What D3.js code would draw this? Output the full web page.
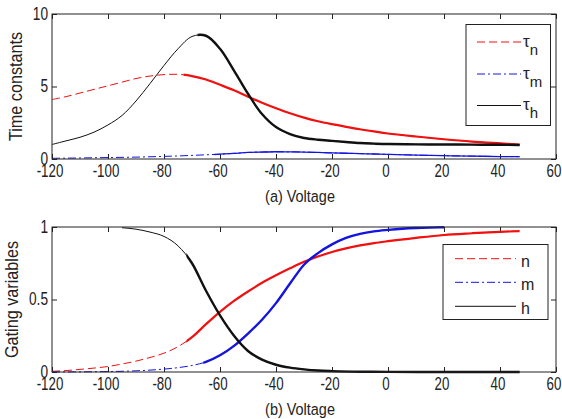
<!DOCTYPE html>
<html>
<head>
<meta charset="utf-8">
<script src="https://cdn.jsdelivr.net/npm/d3@7"></script>
<style>
  html, body { margin: 0; padding: 0; background: #fff; }
  svg { display: block; }
  text { font-family: "Liberation Sans", Arial, Helvetica, sans-serif; fill: #222; }
</style>
</head>
<body>
<svg id="chart" width="562" height="419"></svg>
<script>
// Voltage sample points (mV) for the time-constant curves and n
const tauVolt = [-120,-115,-110,-105,-100,-95,-90,-85,-80,-75,-70,-65,-60,-55,-50,-45,-40,-35,-30,-25,-20,-15,-10,-5,0,10,20,30,40,47];
// Time constants (ms)
const tauN = [4.1,4.3,4.55,4.8,5.05,5.3,5.55,5.72,5.82,5.84,5.72,5.48,5.12,4.74,4.3,3.88,3.5,3.15,2.85,2.6,2.4,2.22,2.05,1.9,1.76,1.55,1.36,1.2,1.08,1.0];
const tauM = [0.05,0.06,0.07,0.085,0.1,0.115,0.13,0.155,0.18,0.21,0.25,0.29,0.33,0.39,0.45,0.48,0.5,0.49,0.48,0.45,0.42,0.395,0.37,0.345,0.32,0.27,0.23,0.2,0.17,0.16];
const tauH = [1.0,1.25,1.5,1.85,2.35,3.0,4.0,5.2,6.45,7.6,8.45,8.5,7.6,6.1,4.5,3.1,2.2,1.72,1.45,1.33,1.25,1.17,1.1,1.06,1.03,1.01,1.0,0.99,0.98,0.97];

// Steady-state gating variables
const gateN = [0.005,0.01,0.018,0.027,0.038,0.055,0.075,0.1,0.13,0.175,0.24,0.33,0.415,0.49,0.555,0.615,0.667,0.715,0.76,0.797,0.828,0.853,0.873,0.889,0.902,0.925,0.945,0.957,0.967,0.972];
const mVolt = [-120,-110,-100,-90,-85,-80,-75,-70,-65,-60,-55,-50,-45,-40,-35,-30,-25,-20,-15,-10,-5,0,5,10,15,20];
const gateM = [0.0,0.001,0.003,0.008,0.013,0.02,0.03,0.045,0.07,0.115,0.18,0.265,0.36,0.475,0.61,0.74,0.82,0.88,0.925,0.953,0.97,0.98,0.988,0.993,0.996,0.998];
const hVolt = [-95,-90,-85,-80,-75,-70,-65,-60,-55,-50,-45,-40,-35,-30,-25,-20,-10,0,20,47];
const gateH = [0.995,0.985,0.965,0.935,0.87,0.75,0.56,0.39,0.25,0.145,0.085,0.05,0.03,0.018,0.01,0.006,0.002,0.001,0,0];

// Voltage above which the trajectory is densely sampled (drawn as a solid heavy trace)
const denseTauN = -73, denseTauM = -62, denseTauH = -68;
const denseN = -72, denseM = -66, denseH = -72;

// Axis ticks
const xTicks = [-120,-100,-80,-60,-40,-20,0,20,40,60];
const tauTicks = [0,5,10];
const gateTicks = [0,0.5,1];
const gateTickLabels = ["0","0.5","1"];

const RED = "#f01010", BLUE = "#1414e0", BLACK = "#111";
const DASH = "8,4", DASHDOT = "8,3,2,3";

const svg = d3.select("#chart");
const margin = { left: 52, right: 556 };

function zip(xs, ys) { return xs.map((v, i) => [v, ys[i]]); }

let clipId = 0;

function panel(cfg) {
  const x = d3.scaleLinear().domain([-120, 60]).range([margin.left, margin.right]);
  const y = d3.scaleLinear().domain(cfg.yDomain).range([cfg.bottom, cfg.top]);
  const g = svg.append("g");

  // ticks on all four sides, pointing inward
  g.append("g").attr("transform", `translate(0,${cfg.bottom})`)
    .call(d3.axisBottom(x).tickValues(xTicks).tickSize(-5).tickFormat(""))
    .call(s => s.select(".domain").remove());
  g.append("g").attr("transform", `translate(0,${cfg.top})`)
    .call(d3.axisTop(x).tickValues(xTicks).tickSize(-5).tickFormat(""))
    .call(s => s.select(".domain").remove());
  g.append("g").attr("transform", `translate(${margin.left},0)`)
    .call(d3.axisLeft(y).tickValues(cfg.yTicks).tickSize(-5).tickFormat(""))
    .call(s => s.select(".domain").remove());
  g.append("g").attr("transform", `translate(${margin.right},0)`)
    .call(d3.axisRight(y).tickValues(cfg.yTicks).tickSize(-5).tickFormat(""))
    .call(s => s.select(".domain").remove());
  g.selectAll(".tick line").attr("stroke", "#222");

  // tick labels (narrow face)
  xTicks.forEach(v => {
    g.append("text")
      .attr("transform", `translate(${x(v) - 2},${cfg.bottom + 17.5}) scale(0.74,1)`)
      .attr("text-anchor", "middle").attr("font-size", 18).text(v);
  });
  cfg.yTicks.forEach((v, i) => {
    g.append("text")
      .attr("transform", `translate(48,${y(v) + 5.5}) scale(0.76,1)`)
      .attr("text-anchor", "end").attr("font-size", 18).text(cfg.yLabels[i]);
  });

  // axis titles
  g.append("text")
    .attr("transform", `translate(300,${cfg.bottom + 42.5}) scale(0.85,1)`)
    .attr("text-anchor", "middle").attr("font-size", 17).text(cfg.xTitle);
  g.append("text")
    .attr("transform", `translate(${cfg.yTitleX},${(cfg.top + cfg.bottom) / 2}) rotate(-90) scale(0.9,1)`)
    .attr("text-anchor", "middle").attr("font-size", 18).text(cfg.yTitle);

  const line = d3.line().x(d => x(d[0])).y(d => y(d[1])).curve(cfg.curve);

  cfg.series.forEach(s => {
    const pts = zip(s.v, s.y);
    // sparse part of the trajectory: the legend line style
    g.append("path").attr("d", line(pts)).attr("fill", "none")
      .attr("stroke", s.color).attr("stroke-width", 1)
      .attr("stroke-dasharray", s.dash || null);
    // densely sampled part: solid heavy trace
    const id = "dense" + (clipId++);
    svg.append("clipPath").attr("id", id).append("rect")
      .attr("x", x(s.dense)).attr("y", cfg.top - 5)
      .attr("width", margin.right - x(s.dense)).attr("height", cfg.bottom - cfg.top + 10);
    g.append("path").attr("d", line(pts)).attr("fill", "none")
      .attr("clip-path", `url(#${id})`)
      .attr("stroke", s.color).attr("stroke-width", s.denseWidth);
  });

  // axes box
  g.append("rect").attr("x", margin.left).attr("y", cfg.top)
    .attr("width", margin.right - margin.left).attr("height", cfg.bottom - cfg.top)
    .attr("fill", "none").attr("stroke", "#222").attr("stroke-width", 1);

  // legend
  const L = cfg.legend;
  g.append("rect").attr("x", L.x).attr("y", L.y).attr("width", L.w).attr("height", L.h)
    .attr("fill", "#fff").attr("stroke", "#222").attr("stroke-width", 1);
  cfg.series.forEach((s, i) => {
    const ly = L.rows[i];
    g.append("line").attr("x1", L.x1).attr("x2", L.x2).attr("y1", ly).attr("y2", ly)
      .attr("stroke", s.color).attr("stroke-width", 1)
      .attr("stroke-dasharray", s.dash || null);
    const t = g.append("text").attr("x", L.tx).attr("y", ly + L.dy).attr("font-size", 16);
    if (s.sub) {
      t.append("tspan").attr("font-size", 17).text("τ");
      t.append("tspan").attr("dy", 8).attr("font-size", 15).text(s.sub);
    } else {
      t.text(s.name);
    }
  });
}

panel({
  top: 14, bottom: 159, yDomain: [0, 10], yTicks: tauTicks, yLabels: tauTicks.map(String),
  xTitle: "(a) Voltage", yTitle: "Time constants", yTitleX: 21.5,
  curve: d3.curveCatmullRom.alpha(0.5),
  series: [
    { v: tauVolt, y: tauN, color: RED, dash: DASH, dense: denseTauN, denseWidth: 2.2, sub: "n" },
    { v: tauVolt, y: tauM, color: BLUE, dash: DASHDOT, dense: denseTauM, denseWidth: 1.3, sub: "m" },
    { v: tauVolt, y: tauH, color: BLACK, dash: null, dense: denseTauH, denseWidth: 2.4, sub: "h" }
  ],
  legend: { x: 466, y: 24.5, w: 84.5, h: 101, x1: 477, x2: 521, tx: 523, dy: 4.5, rows: [42, 74, 105.5] }
});

panel({
  top: 227, bottom: 372, yDomain: [0, 1], yTicks: gateTicks, yLabels: gateTickLabels,
  xTitle: "(b) Voltage", yTitle: "Gating variables", yTitleX: 18,
  curve: d3.curveMonotoneX,
  series: [
    { v: tauVolt, y: gateN, color: RED, dash: DASH, dense: denseN, denseWidth: 2.2, name: "n" },
    { v: mVolt, y: gateM, color: BLUE, dash: DASHDOT, dense: denseM, denseWidth: 2.4, name: "m" },
    { v: hVolt, y: gateH, color: BLACK, dash: null, dense: denseH, denseWidth: 2.4, name: "h" }
  ],
  legend: { x: 443, y: 244.5, w: 105, h: 75, x1: 455, x2: 516, tx: 521, dy: 8, rows: [258.7, 282.3, 306.3] }
});
</script>
</body>
</html>
